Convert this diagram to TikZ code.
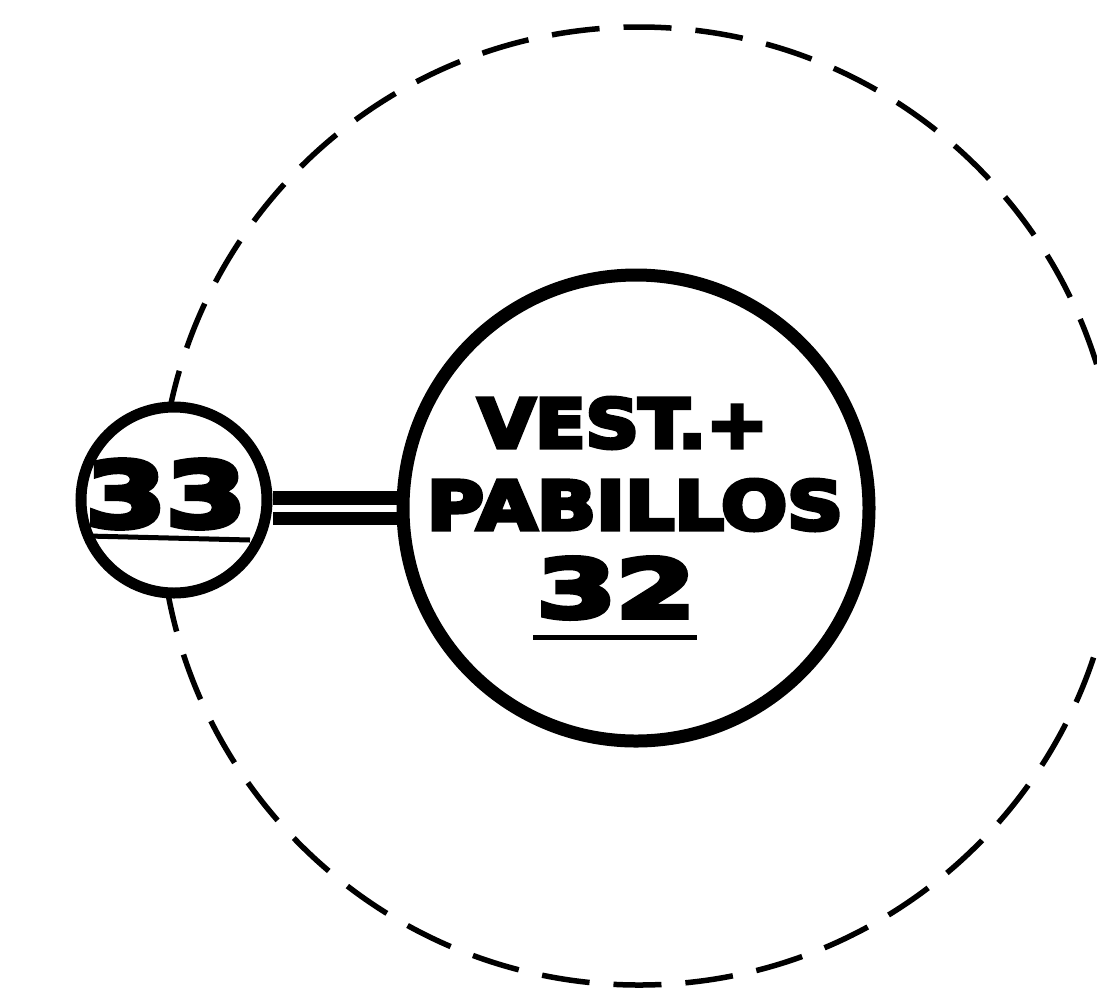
\documentclass[tikz,border=0pt]{standalone}
\usepackage{fontspec}
\usepackage{graphicx}
\newfontfamily\heavy{DejaVu Sans}[BoldFont={DejaVu Sans Bold}, BoldFeatures={FakeBold=6}]
\pgfdeclarelayer{back}
\pgfsetlayers{back,main}
\tikzset{
  outerring/.style={circle, draw, line width=5.5pt, dash pattern=on 48pt off 24pt, minimum size=958pt, inner sep=0pt},
  bigring/.style={circle, draw, line width=13pt, minimum size=466pt, inner sep=0pt},
  smallring/.style={circle, draw, fill=white, line width=11pt, minimum size=186pt, inner sep=0pt},
  label/.style={inner sep=0pt, font=\heavy\bfseries},
  link/.style={draw, line width=13.5pt, double=white, double distance=7pt},
  uline/.style={draw, line width=5pt}
}
\begin{document}
\begin{tikzpicture}[x=1pt,y=-1pt]
\useasboundingbox (0,0) rectangle (1097,994);
\node[outerring] (outer) at (639,506) {};
\node[bigring] (big) at (636,508) {};
\node[smallring] (small) at (174,500) {};
\begin{pgfonlayer}{back}
\draw[link] (big.west -| small.east) -- (big.west);
\end{pgfonlayer}
\node[label] (vest) at (623,423) {\resizebox{290pt}{50pt}{VEST.+}};
\node[label] (pab) at (635,505) {\resizebox{416pt}{50pt}{PABILLOS}};
\node[label] (n32) at (616,588) {\resizebox{158pt}{60pt}{32}};
\node[label] (n33) at (166,494) {\resizebox{160pt}{67pt}{33}};
\draw[uline] (533,637) -- (697,637);
\draw[uline] (88,536) -- (250,540);
\end{tikzpicture}
\end{document}
